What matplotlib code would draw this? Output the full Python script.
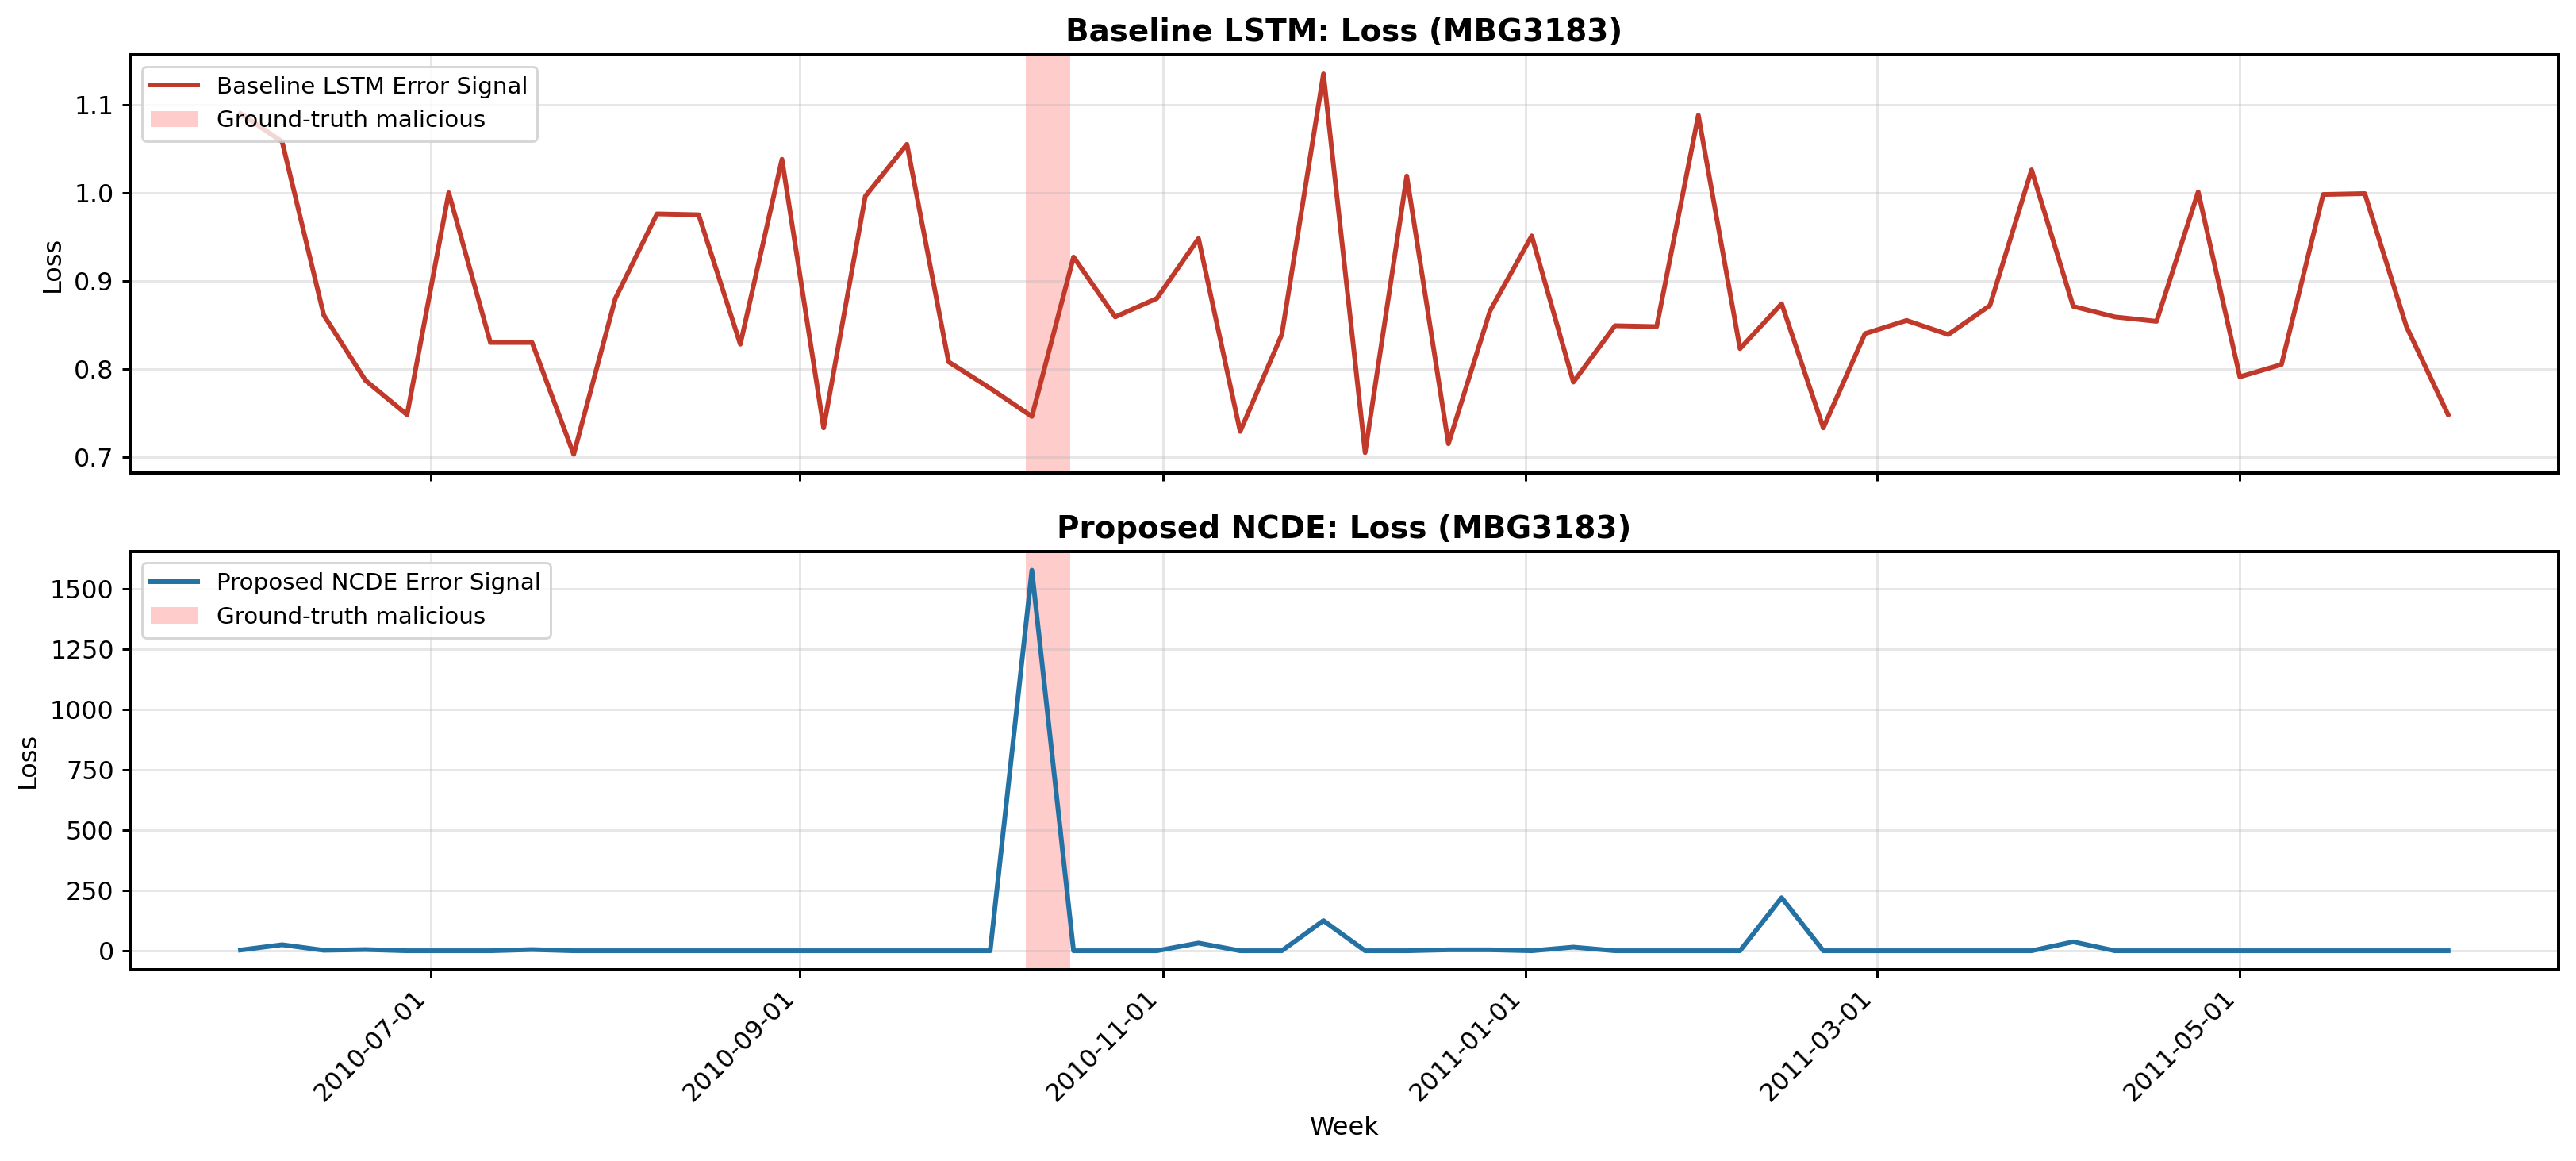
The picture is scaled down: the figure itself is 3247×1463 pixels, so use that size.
"""
Weekly loss signals for user MBG3183: baseline LSTM vs proposed NCDE.
"""

import pandas as pd
import matplotlib
matplotlib.use('Agg')
import matplotlib.pyplot as plt
import matplotlib.dates as mdates

# weekly dates (Sundays) from 2010-05-30 to 2011-06-05
weeks = pd.date_range('2010-05-30', periods=54, freq='W-SUN')

lstm_loss = [
    1.090, 1.058, 0.861, 0.787, 0.748, 1.000, 0.830, 0.830, 0.703, 0.880,
    0.976, 0.975, 0.828, 1.038, 0.733, 0.996, 1.055, 0.808, 0.778, 0.746,
    0.927, 0.859, 0.880, 0.948, 0.729, 0.839, 1.135, 0.705, 1.019, 0.715,
    0.866, 0.951, 0.785, 0.849, 0.848, 1.088, 0.823, 0.874, 0.733, 0.840,
    0.855, 0.839, 0.872, 1.026, 0.871, 0.859, 0.854, 1.001, 0.791, 0.805,
    0.998, 0.999, 0.848, 0.748,
]

ncde_loss = [
    3, 25, 2, 5, 0, 0, 0, 5, 0, 0,
    0, 0, 0, 0, 0, 0, 0, 0, 0, 1578,
    0, 0, 0, 32, 0, 0, 125, 0, 0, 4,
    4, 0, 15, 0, 0, 0, 0, 220, 0, 0,
    0, 0, 0, 0, 37, 0, 0, 0, 0, 0,
    0, 0, 0, 0,
]

# ground-truth malicious window
mal_start = pd.Timestamp('2010-10-09')
mal_end = pd.Timestamp('2010-10-16 12:00')

user = 'MBG3183'

plt.rcParams['font.family'] = 'DejaVu Sans'
plt.rcParams['axes.linewidth'] = 1.44
plt.rcParams['xtick.major.width'] = 1.08
plt.rcParams['ytick.major.width'] = 1.08
plt.rcParams['xtick.major.size'] = 3.6
plt.rcParams['ytick.major.size'] = 3.6
plt.rcParams['xtick.major.pad'] = 3.7
plt.rcParams['ytick.major.pad'] = 3.7
plt.rcParams['axes.labelpad'] = 4.2
plt.rcParams['patch.linewidth'] = 1.05

fig, (ax1, ax2) = plt.subplots(2, 1, figsize=(3247 / 200, 1463 / 200), dpi=200, sharex=True)
fig.subplots_adjust(left=0.0505, right=0.9932, top=0.9528, bottom=0.1647, hspace=0.186)

panels = [
    (ax1, lstm_loss, '#c0392b', 'Baseline LSTM Error Signal', f'Baseline LSTM: Loss ({user})'),
    (ax2, ncde_loss, '#2471a3', 'Proposed NCDE Error Signal', f'Proposed NCDE: Loss ({user})'),
]

for ax, values, color, label, title in panels:
    ax.plot(weeks, values, color=color, linewidth=2.15, label=label)
    ax.axvspan(mal_start, mal_end, color='red', alpha=0.2, linewidth=0, label='Ground-truth malicious')
    ax.set_title(title, fontsize=14, fontweight='bold')
    ax.set_ylabel('Loss', fontsize=11.5)
    ax.grid(True, alpha=0.3, linewidth=1.08)
    ax.tick_params(labelsize=11.4)
    ax.legend(loc='upper left', fontsize=10.6)

ax2.xaxis.set_major_locator(mdates.MonthLocator(bymonth=[1, 3, 5, 7, 9, 11]))
ax2.xaxis.set_major_formatter(mdates.DateFormatter('%Y-%m-%d'))
ax2.set_xlabel('Week', fontsize=11.5)
plt.setp(ax2.get_xticklabels(), rotation=45, ha='right')

fig.savefig('out.png', dpi=200)
plt.close(fig)
